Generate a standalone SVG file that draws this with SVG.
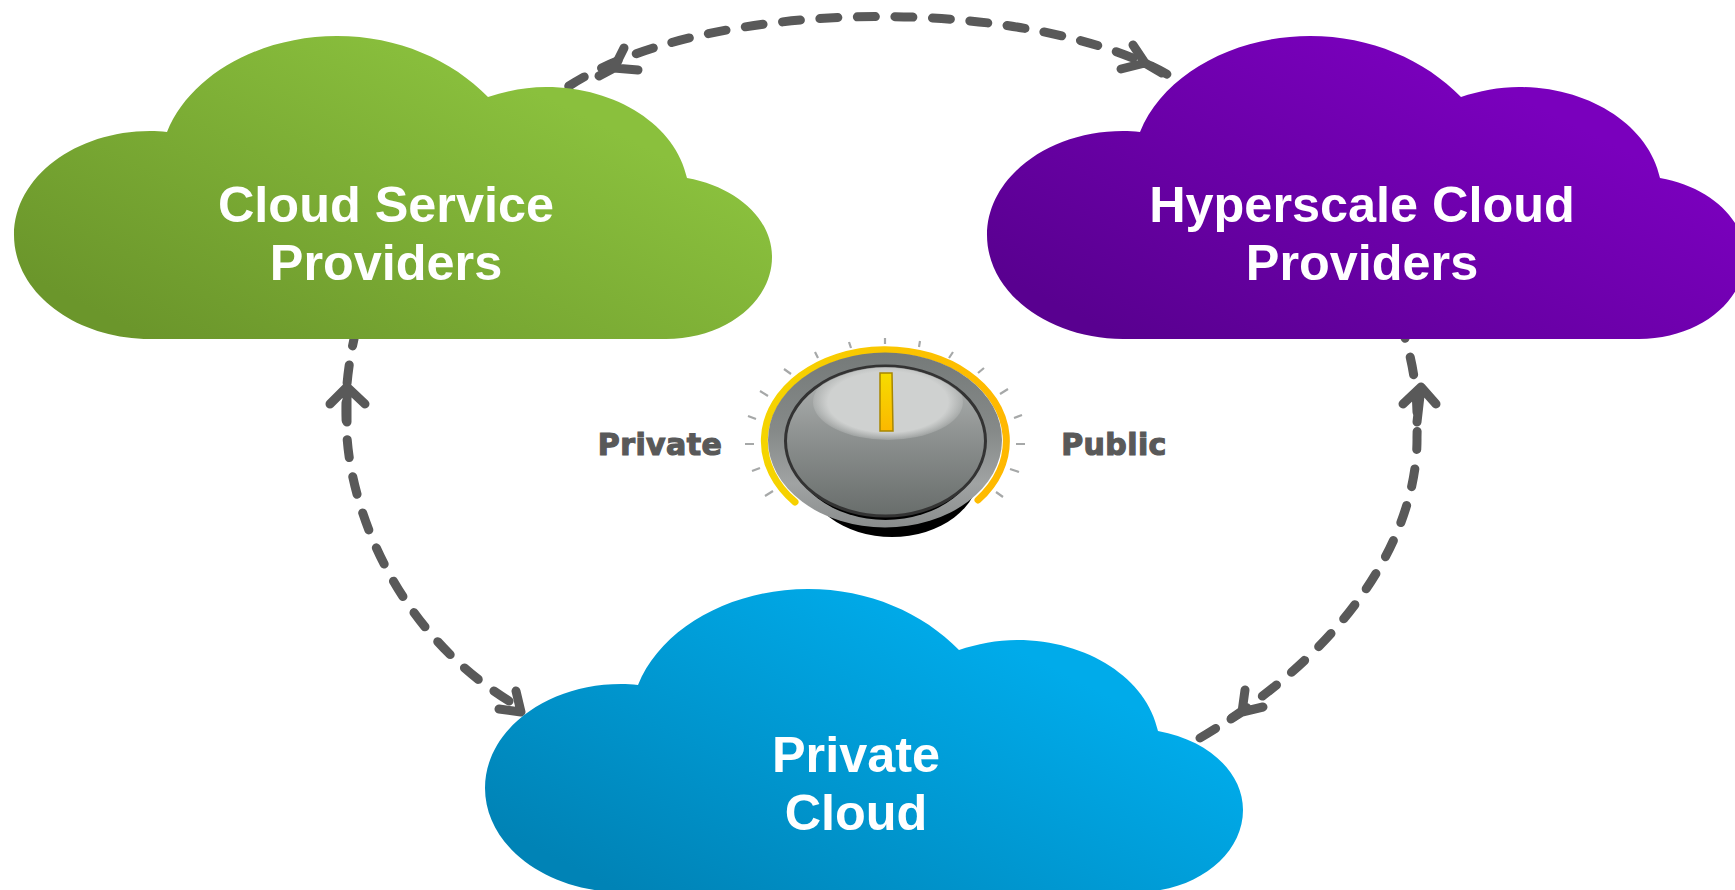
<svg xmlns="http://www.w3.org/2000/svg" width="1735" height="890" viewBox="0 0 1735 890">
<style>
.lbl{font-family:"Liberation Sans",Arial,sans-serif;font-weight:700;font-size:50.4px;fill:#fff;text-anchor:middle}
.dial{font-family:"DejaVu Sans",sans-serif;font-weight:700;font-size:30px;fill:#595959;stroke:#595959;stroke-width:1.2px;letter-spacing:.4px;text-anchor:middle}
.dash{fill:none;stroke:#595959;stroke-width:9;stroke-linecap:round;stroke-dasharray:18 19.5}
.head{fill:none;stroke:#595959;stroke-width:9;stroke-linecap:round;stroke-linejoin:round}
.tick{stroke:#a6a8a8;stroke-width:2.2;fill:none}
</style>
<defs>
<linearGradient id="gGreen" gradientUnits="userSpaceOnUse" x1="150" y1="339" x2="329" y2="-14"><stop offset="0" stop-color="#6b962b"/><stop offset="1" stop-color="#8ac03d"/></linearGradient>
<linearGradient id="gPurple" gradientUnits="userSpaceOnUse" x1="150" y1="339" x2="329" y2="-14"><stop offset="0" stop-color="#590090"/><stop offset="1" stop-color="#7a00bd"/></linearGradient>
<linearGradient id="gBlue" gradientUnits="userSpaceOnUse" x1="150" y1="339" x2="329" y2="-14"><stop offset="0" stop-color="#0083b6"/><stop offset="1" stop-color="#00abea"/></linearGradient>
<path id="cloud" d="M167 132C190 75 260 36 337 36C398 36 452 60 488 97C506 91 526 87 546 87C617 87 676 126 687 178C737 187 772 219 772 257C772 302 725 339 666 339L150 339C76 339 14 293 14 235C14 177 76 131 150 131C156 131 161 131 167 132Z"/>
<linearGradient id="gArc" x1="0" x2="1" y1="0" y2="0"><stop offset="0" stop-color="#f5d400"/><stop offset="1" stop-color="#ffb800"/></linearGradient>
<linearGradient id="gBezel" x1="0" x2="0" y1="0" y2="1"><stop offset="0" stop-color="#757a79"/><stop offset="0.45" stop-color="#868a89"/><stop offset="0.75" stop-color="#a0a3a3"/><stop offset="1" stop-color="#8a8d8d"/></linearGradient>
<linearGradient id="gFace" x1="0" x2="0" y1="0" y2="1"><stop offset="0" stop-color="#b4b7b6"/><stop offset="0.5" stop-color="#8b8f8e"/><stop offset="1" stop-color="#686d6b"/></linearGradient>
<linearGradient id="gPointer" x1="0" x2="0" y1="0" y2="1"><stop offset="0" stop-color="#f6dc00"/><stop offset="1" stop-color="#fbb800"/></linearGradient>
<radialGradient id="gGlow"><stop offset="0" stop-color="#cfd1d0"/><stop offset="0.8" stop-color="#cfd1d0"/><stop offset="1" stop-color="#cfd1d0" stop-opacity="0.25"/></radialGradient>
<clipPath id="faceClip"><ellipse cx="885.5" cy="441" rx="99" ry="74"/></clipPath>
</defs>
<rect width="1735" height="890" fill="#fff"/>
<g id="connectors">
<path class="dash" stroke-dashoffset="-7" d="M563 90C700 -5 1040 -8 1180 82"/>
<path class="dash" d="M509 701C395 630 352 510 347 437C345 410 345 380 354 339"/>
<path class="dash" d="M1200 738C1365 640 1418 520 1417 437C1418 400 1415 370 1405 338"/>
<path class="head" d="M624 48L614 68L638 70M614 68L599 76"/>
<path class="head" d="M1133 45L1145 63L1121 69M1145 63L1162 73"/>
<path class="head" d="M330 404L347 387L365 404M347 387L347 422"/>
<path class="head" d="M1403 404L1421 387L1436 404M1421 387L1417 422"/>
<path class="head" d="M516 691L521 712L499 709"/>
<path class="head" d="M1245 690L1242 712L1263 707M1242 712L1231 719"/>
</g>
<g id="cloud-service-providers">
<use href="#cloud" fill="url(#gGreen)"/>
<text class="lbl" x="386" y="222">Cloud Service</text>
<text class="lbl" x="386" y="280">Providers</text>
</g>
<g id="hyperscale-cloud-providers">
<use href="#cloud" x="973" fill="url(#gPurple)"/>
<text class="lbl" x="1362" y="222">Hyperscale Cloud</text>
<text class="lbl" x="1362" y="280">Providers</text>
</g>
<g id="private-cloud">
<use href="#cloud" x="471" y="553" fill="url(#gBlue)"/>
<text class="lbl" x="856" y="772">Private</text>
<text class="lbl" x="856" y="830">Cloud</text>
</g>
<g id="dial">
<path class="tick" d="M885 338V344M849 342L851 348M815 352L818 358M784 369L791 374M760 391L768 396M748 416L756 419M745 444H754M752 471L760 468M765 496L773 491M919 347L920 341M949 358L953 352M978 373L984 368M1000 394L1008 389M1014 418L1022 415M1016 444H1025M1010 469L1019 472M996 492L1003 497"/>
<ellipse cx="892" cy="470" rx="88" ry="67" fill="#000"/>
<path d="M795 502A121 91.500 0 1 1 978 500" fill="none" stroke="url(#gArc)" stroke-width="7" stroke-linecap="round"/>
<ellipse cx="885" cy="440" rx="117" ry="87.500" fill="url(#gBezel)"/>
<ellipse cx="885.500" cy="446" rx="96" ry="74" fill="#000"/>
<ellipse cx="885.500" cy="441" rx="100" ry="75" fill="url(#gFace)" stroke="#333" stroke-width="3"/>
<ellipse cx="888" cy="402" rx="75" ry="38" fill="url(#gGlow)" clip-path="url(#faceClip)"/>
<path d="M880 373H892L893 431H880Z" fill="url(#gPointer)" stroke="#a88600" stroke-width="1.500"/>
<text class="dial" x="660" y="455">Private</text>
<text class="dial" x="1114" y="455">Public</text>
</g>
</svg>
